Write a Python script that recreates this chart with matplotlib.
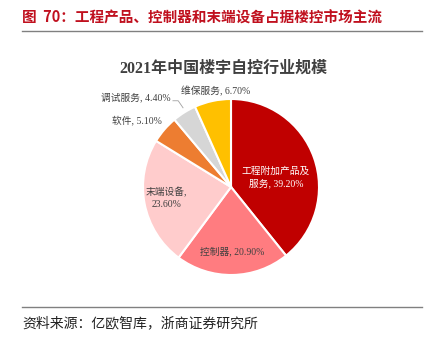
import matplotlib.pyplot as plt
from matplotlib.lines import Line2D

plt.rcParams['font.family'] = ['Noto Sans CJK SC', 'DejaVu Sans']
serif = ['Liberation Serif', 'Noto Sans CJK SC']

names = ['工程附加产品及\n服务, ', '控制器, ', '末端设备,\n', '软件, ', '调试服务, ', '维保服务, ']
shares = [39.2, 20.9, 23.6, 5.1, 4.4, 6.7]
colors = ['#C00000', '#FF7C80', '#FFCCCC', '#ED7D31', '#D6D6D6', '#FFC000']
text_colors = ['white', '#404040', '#404040', '#404040', '#404040', '#404040']
# label spots in pie units (radius = 1)
label_pos = [(0.51, 0.11), (0.01, -0.73), (-0.73, -0.125), (-1.07, 0.76), (-1.08, 1.02), (-0.18, 1.09)]

W, H = 425, 341
fig = plt.figure(figsize=(W / 100, H / 100), dpi=100)

# header
fig.text(22 / W, 1 - 18 / H, '图  70：工程产品、控制器和末端设备占据楼控市场主流',
         color='#C0101E', fontsize=10.5, fontweight='bold', va='center', ha='left')
fig.add_artist(Line2D([22 / W, 422 / W], [1 - 31 / H, 1 - 31 / H], color='#808080', lw=1.0))
fig.add_artist(Line2D([22 / W, 422 / W], [1 - 307 / H, 1 - 307 / H], color='#808080', lw=1.0))
fig.text(22 / W, 1 - 323 / H, '资料来源：亿欧智库，浙商证券研究所',
         color='#222222', fontsize=10, va='center', ha='left')

# pie axes: center (231,187) px, radius 88 px
cx, cy, r = 231, 187, 88
lim = 1.7
aw, ah = 2 * lim * r / W, 2 * lim * r / H
ax = fig.add_axes([cx / W - aw / 2, 1 - cy / H - ah / 2, aw, ah])
ax.pie(shares, colors=colors, startangle=90, counterclock=False, radius=1,
       wedgeprops=dict(edgecolor='white', linewidth=1.5))
ax.set_xlim(-lim, lim)
ax.set_ylim(-lim, lim)
ax.set_aspect('equal')
ax.axis('off')

for n, s, c, (x, y) in zip(names, shares, text_colors, label_pos):
    ax.text(x, y, f'{n}{s:.2f}%', ha='center', va='center', fontsize=7,
            color=c, linespacing=1.35, family=serif)

# leader line for 调试服务
ax.plot([-0.66, -0.60, -0.545], [0.98, 0.98, 0.90], color='#A0A0A0', lw=0.6)

fig.text(223 / W, 1 - 69 / H, '2021年中国楼宇自控行业规模', ha='center', va='center',
         fontsize=11.5, fontweight='bold', color='#404040', family=serif)

fig.savefig('out.png', dpi=100)
